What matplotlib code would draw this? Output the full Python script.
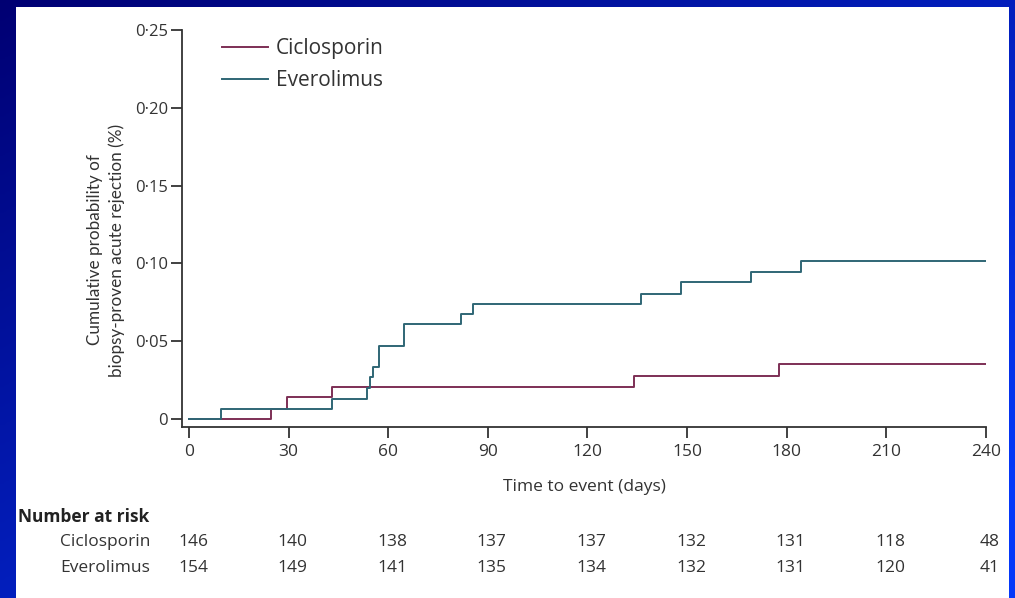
import numpy as np
import matplotlib
matplotlib.use("Agg")
import matplotlib.pyplot as plt
from matplotlib.patches import Rectangle
from matplotlib.ticker import FuncFormatter

# step data (day of event, cumulative probability after it)
cic_days = [0, 24.6, 29.4, 43.0, 134.0, 177.6, 240]
cic_prob = [0, 0.0064, 0.0141, 0.0206, 0.0278, 0.0353, 0.0353]
eve_days = [0, 9.6, 43.0, 53.7, 54.5, 55.5, 57.1, 64.8, 81.8, 85.6, 136.1, 148.2, 169.2, 184.2, 240]
eve_prob = [0, 0.0064, 0.0130, 0.0200, 0.0268, 0.0334, 0.0470, 0.0610, 0.0673, 0.0739,
            0.0803, 0.0879, 0.0943, 0.1015, 0.1015]

risk_times = [0, 30, 60, 90, 120, 150, 180, 210, 240]
risk_cic = [146, 140, 138, 137, 137, 132, 131, 118, 48]
risk_eve = [154, 149, 141, 135, 134, 132, 131, 120, 41]

c_cic = "#7d2f55"
c_eve = "#2f6675"
ink = "#333333"
plt.rcParams['font.family'] = ['Open Sans', 'DejaVu Sans']
fs = 12.5

W, H = 1015, 598
fig = plt.figure(figsize=(W/100, H/100), dpi=100)

# blue gradient frame
bg = fig.add_axes([0, 0, 1, 1])
gx, gy = np.meshgrid(np.linspace(0, 1, 200), np.linspace(0, 1, 200))
t = np.clip(0.55*gx + 0.55*gy, 0, 1)
dark = np.array([0.0, 0.0, 0.45])
bright = np.array([0.02, 0.22, 0.98])
img = dark + (bright - dark)*t[..., None]
bg.imshow(img, extent=[0, 1, 0, 1], aspect='auto', origin='upper')
bg.axis('off')
bg.add_patch(Rectangle((16/W, 0), (1009-16)/W, 1-7/H, transform=fig.transFigure,
                       facecolor='white', edgecolor='none'))

ax = fig.add_axes([182/W, 1-427/H, (986-182)/W, (427-30)/H])
ax.set_facecolor('none')
ax.step(cic_days, cic_prob, where='post', color=c_cic, lw=1.4, label='Ciclosporin')
ax.step(eve_days, eve_prob, where='post', color=c_eve, lw=1.4, label='Everolimus')
ax.set_xlim(-2.1, 240)
ax.set_ylim(-0.0051, 0.25)
ax.set_xticks(risk_times)
ax.set_yticks([0, 0.05, 0.10, 0.15, 0.20, 0.25])
ax.yaxis.set_major_formatter(FuncFormatter(lambda v, p: '0' if abs(v) < 1e-9 else f'{v:.2f}'.replace('.', '·')))
for s in ['top', 'right']:
    ax.spines[s].set_visible(False)
for s in ['left', 'bottom']:
    ax.spines[s].set_color(ink)
    ax.spines[s].set_linewidth(1.3)
ax.tick_params(axis='both', direction='out', length=8, width=1.3, color=ink,
               labelsize=fs, labelcolor=ink)
ax.tick_params(axis='y', labelsize=12, pad=2)
ax.tick_params(axis='x', pad=4)
ax.set_xlabel('Time to event (days)', fontsize=fs, color=ink, labelpad=14)

leg = fig.legend(loc='upper left', bbox_to_anchor=(222/W, 1-38/H), frameon=False,
                 fontsize=15, handlelength=2.2, handletextpad=0.4, labelspacing=0.55,
                 borderpad=0, borderaxespad=0)
for txt in leg.get_texts():
    txt.set_color(ink)

fig.text(106/W, 1-250/H, 'Cumulative probability of\nbiopsy-proven acute rejection (%)',
         rotation=90, ha='center', va='center', fontsize=12.3, color=ink, linespacing=1.45,
         family=['Lato', 'DejaVu Sans'])

# number at risk table
fig.text(18/W, 1-517/H, 'Number at risk', fontsize=fs, fontweight='bold', color='#222222',
         ha='left', va='center')
fig.text(150/W, 1-542/H, 'Ciclosporin', fontsize=fs, color=ink, ha='right', va='center')
fig.text(150/W, 1-568/H, 'Everolimus', fontsize=fs, color=ink, ha='right', va='center')
for tm, a, b in zip(risk_times, risk_cic, risk_eve):
    xf = ax.transData.transform((tm, 0))[0]
    xf = fig.transFigure.inverted().transform((xf, 0))[0] + 4/W
    fig.text(xf, 1-542/H, str(a), fontsize=fs, color=ink, ha='center', va='center')
    fig.text(xf, 1-568/H, str(b), fontsize=fs, color=ink, ha='center', va='center')

fig.savefig('out.png', dpi=100)
